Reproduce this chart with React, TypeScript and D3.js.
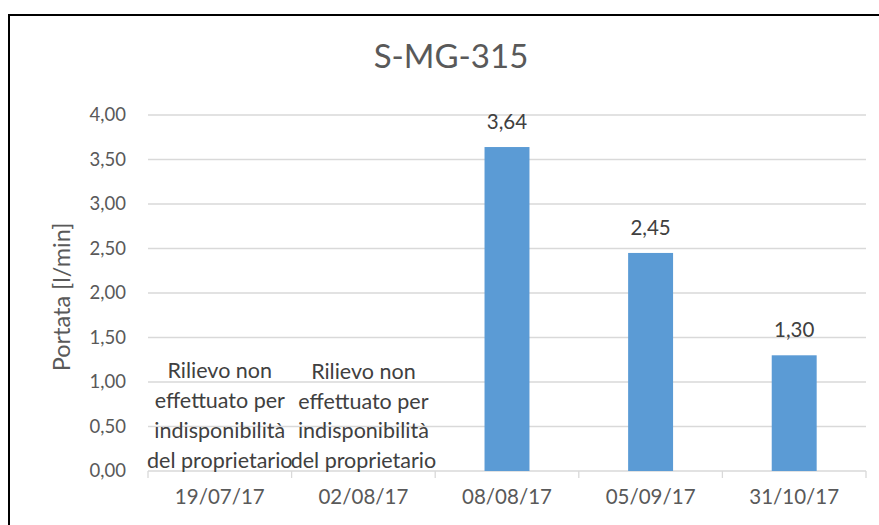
import React, { useEffect, useRef } from 'react';
import * as d3 from 'd3';

const categories = ['19/07/17', '02/08/17', '08/08/17', '05/09/17', '31/10/17'];
const portata: (number | null)[] = [null, null, 3.64, 2.45, 1.3];
const yTicks = [0, 0.5, 1, 1.5, 2, 2.5, 3, 3.5, 4];
const noteLines = ['Rilievo non', 'effettuato per', 'indisponibilità', 'del proprietario'];
const noteCategories = ['19/07/17', '02/08/17'];

const fmt = (v: number) => v.toFixed(2).replace('.', ',');

export default function App() {
  const svgRef = useRef<SVGSVGElement>(null);

  useEffect(() => {
    if (!svgRef.current) return;
    const W = 879;
    const H = 525;
    const margin = { top: 115, right: 13, bottom: 54, left: 148 };
    const width = W - margin.left - margin.right;
    const height = H - margin.top - margin.bottom;
    const font = 'Lato, Carlito, Calibri, sans-serif';

    const svg = d3.select(svgRef.current);
    svg.selectAll('*').remove();
    svg.attr('width', W).attr('height', H);

    svg.append('rect').attr('width', W).attr('height', H).attr('fill', '#fff');

    // chart border
    svg.append('rect')
      .attr('x', 9)
      .attr('y', 15)
      .attr('width', W + 20)
      .attr('height', H + 20)
      .attr('fill', 'none')
      .attr('stroke', '#000')
      .attr('stroke-width', 2);

    svg.append('text')
      .attr('x', 451)
      .attr('y', 68)
      .attr('text-anchor', 'middle')
      .attr('font-family', font)
      .attr('font-size', 33)
      .attr('fill', '#595959')
      .text('S-MG-315');

    const g = svg.append('g').attr('transform', `translate(${margin.left},${margin.top})`);

    const x = d3.scaleBand().domain(categories).range([0, width]).paddingInner(0.687).paddingOuter(0.3435);
    const band = d3.scaleBand().domain(categories).range([0, width]);
    const y = d3.scaleLinear().domain([0, 4]).range([height, 0]);

    // gridlines
    g.selectAll('.grid')
      .data(yTicks.filter(t => t > 0))
      .enter()
      .append('line')
      .attr('x1', 0)
      .attr('x2', width)
      .attr('y1', d => y(d))
      .attr('y2', d => y(d))
      .attr('stroke', '#d9d9d9')
      .attr('stroke-width', 1.3);

    // y tick labels
    g.selectAll('.ylab')
      .data(yTicks)
      .enter()
      .append('text')
      .attr('x', -22)
      .attr('y', d => y(d))
      .attr('dy', '0.35em')
      .attr('text-anchor', 'end')
      .attr('font-family', font)
      .attr('font-size', 18.5)
      .attr('fill', '#595959')
      .text(d => fmt(d));

    // x axis
    g.append('line')
      .attr('x1', 0)
      .attr('x2', width)
      .attr('y1', height)
      .attr('y2', height)
      .attr('stroke', '#d9d9d9')
      .attr('stroke-width', 1.3);

    const bounds = categories.map(c => band(c) || 0).concat([width]);
    g.selectAll('.xtick')
      .data(bounds)
      .enter()
      .append('line')
      .attr('x1', d => d)
      .attr('x2', d => d)
      .attr('y1', height)
      .attr('y2', height + 7)
      .attr('stroke', '#d9d9d9')
      .attr('stroke-width', 1.3);

    g.selectAll('.xlab')
      .data(categories)
      .enter()
      .append('text')
      .attr('x', d => (band(d) || 0) + band.bandwidth() / 2)
      .attr('y', height + 26)
      .attr('dy', '0.35em')
      .attr('text-anchor', 'middle')
      .attr('font-family', font)
      .attr('font-size', 20.5)
      .attr('fill', '#595959')
      .text(d => d);

    const pts = categories.map((c, i) => ({ c, v: portata[i] })).filter(d => d.v !== null) as { c: string; v: number }[];

    g.selectAll('.bar')
      .data(pts)
      .enter()
      .append('rect')
      .attr('x', d => x(d.c) || 0)
      .attr('width', x.bandwidth())
      .attr('y', d => y(d.v))
      .attr('height', d => height - y(d.v))
      .attr('fill', '#5b9bd5');

    g.selectAll('.dlab')
      .data(pts)
      .enter()
      .append('text')
      .attr('x', d => (x(d.c) || 0) + x.bandwidth() / 2)
      .attr('y', d => y(d.v) - 25)
      .attr('dy', '0.35em')
      .attr('text-anchor', 'middle')
      .attr('font-family', font)
      .attr('font-size', 20.5)
      .attr('fill', '#404040')
      .text(d => fmt(d.v));

    // notes for missing measurements
    noteCategories.forEach((c, ci) => {
      const cx = (band(c) || 0) + band.bandwidth() / 2;
      const base = y(0) - 3.5;
      const t = g.append('text')
        .attr('text-anchor', 'middle')
        .attr('font-family', font)
        .attr('font-size', 21.5)
        .attr('fill', '#404040');
      noteLines.forEach((line, li) => {
        t.append('tspan')
          .attr('x', cx)
          .attr('y', base - (noteLines.length - 1 - li) * (30 - ci * 0.5))
          .text(line);
      });
    });

    // y axis title
    svg.append('text')
      .attr('transform', `translate(62,${margin.top + height / 2 + 4}) rotate(-90)`)
      .attr('text-anchor', 'middle')
      .attr('dy', '0.35em')
      .attr('font-family', font)
      .attr('font-size', 23.5)
      .attr('fill', '#595959')
      .text('Portata [l/min]');
  }, []);

  return <svg ref={svgRef} style={{ position: 'absolute', left: 0, top: 0, display: 'block' }} />;
}
